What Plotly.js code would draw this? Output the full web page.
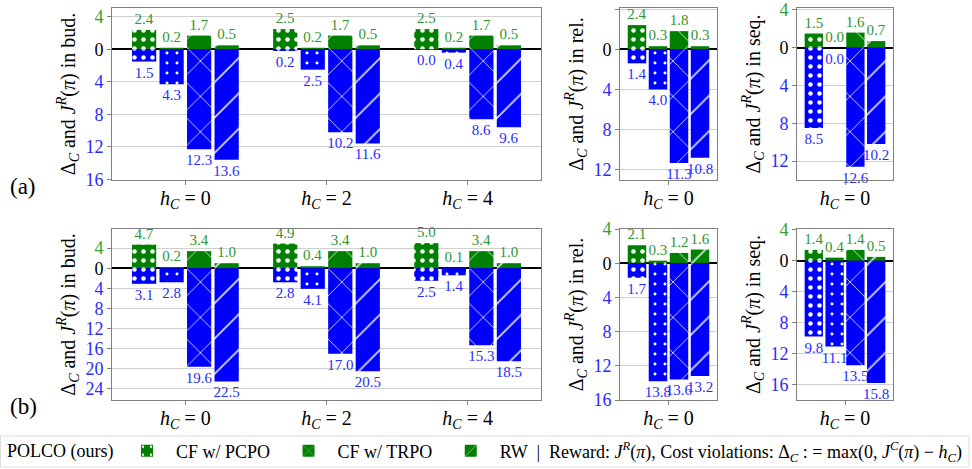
<!DOCTYPE html>
<html><head><meta charset="utf-8">
<script src="https://cdn.plot.ly/plotly-3.0.1.min.js"></script>
<style>body{margin:0;background:#fff}#chart{width:972px;height:469px}</style>
</head><body><div id="chart"></div>
<script>
// ---------- data ----------
const methods = ['POLCO (ours)', 'CF w/ PCPO', 'CF w/ TRPO', 'RW'];
const budCats = ['<i>h</i><sub><i>C</i></sub> = 0', '<i>h</i><sub><i>C</i></sub> = 2', '<i>h</i><sub><i>C</i></sub> = 4'];
const singleCat = ['<i>h</i><sub><i>C</i></sub> = 0'];

// rows: methods (POLCO, PCPO, TRPO, RW); columns: categories
// (a) budget: reward J^R (up, green) and cost violation Δ_C (down, blue)
const aBudReward = [[2.4, 2.5, 2.5], [0.2, 0.2, 0.2], [1.7, 1.7, 1.7], [0.5, 0.5, 0.5]];
const aBudCost   = [[1.5, 0.2, 0.0], [4.3, 2.5, 0.4], [12.3, 10.2, 8.6], [13.6, 11.6, 9.6]];
const aRelReward = [[2.4], [0.3], [1.8], [0.3]];
const aRelCost   = [[1.4], [4.0], [11.3], [10.8]];
const aSeqReward = [[1.5], [0.0], [1.6], [0.7]];
const aSeqCost   = [[8.5], [0.0], [12.6], [10.2]];
// (b)
const bBudReward = [[4.7, 4.9, 5.0], [0.2, 0.4, 0.1], [3.4, 3.4, 3.4], [1.0, 1.0, 1.0]];
const bBudCost   = [[3.1, 2.8, 2.5], [2.8, 4.1, 1.4], [19.6, 17.0, 15.3], [22.5, 20.5, 18.5]];
const bRelReward = [[2.1], [0.3], [1.2], [1.6]];
const bRelCost   = [[1.7], [13.8], [13.6], [13.2]];
const bSeqReward = [[1.4], [0.4], [1.4], [0.5]];
const bSeqCost   = [[9.8], [11.1], [13.5], [15.8]];

// tick values per panel
const aBudTicks = [4, 0, -4, -8, -12, -16];
const aRelTicks = [4, 0, -4, -8, -12];
const aSeqTicks = [4, 0, -4, -8, -12];
const bBudTicks = [8, 4, 0, -4, -8, -12, -16, -20, -24];
const bRelTicks = [4, 0, -4, -8, -12, -16];
const bSeqTicks = [4, 0, -4, -8, -12, -16];

const legendTail = 'RW &nbsp;|&nbsp; Reward: <i>J</i><sup><i>R</i></sup>(<i>π</i>), Cost violations: Δ<sub><i>C</i></sub> : = max(0, <i>J</i><sup><i>C</i></sup>(<i>π</i>) − <i>h</i><sub><i>C</i></sub>)';
const PAD = '&nbsp;';
const legendNames = [methods[0], methods[1] + PAD, methods[2] + PAD, legendTail];

// ---------- styles ----------
const GREEN = '#008000', BLUE = '#0000ff';
const GTXT = '#2f962f', BTXT = '#2b2bff';
const patternStyles = [
  {shape: '.', size: 9, solidity: 0.2, fgopacity: 1},
  {shape: '.', size: 10, solidity: 0.07, fgopacity: 1},
  {shape: 'x', size: 25, solidity: 0.07, fgopacity: 0.85},
  {shape: '/', size: 25, solidity: 0.07, fgopacity: 0.85}
];
function pat(m, bg) {
  return Object.assign({fgcolor: 'white', bgcolor: bg, fillmode: 'replace'}, patternStyles[m]);
}
const FONT = '"Liberation Serif", "DejaVu Serif", serif';

function panel(reward, cost, cats, xa, ya, withLegend) {
  const out = [];
  for (let m = 0; m < 4; m++) {
    out.push({
      type: 'bar', x: cats, y: reward[m], xaxis: xa, yaxis: ya,
      offsetgroup: String(m), name: legendNames[m],
      showlegend: withLegend && m > 0,
      marker: {color: GREEN, line: {width: 0}, pattern: pat(m, GREEN)},
      text: reward[m].map(v => v.toFixed(1)), textposition: 'outside',
      textfont: {color: GTXT, size: 15, family: FONT},
      cliponaxis: false, constraintext: 'none', hoverinfo: 'skip'
    });
    out.push({
      type: 'bar', x: cats,
      // downward bars; a tiny floor keeps a 0.0 label below the zero line
      y: cost[m].map(v => -Math.max(v, 0.001)), xaxis: xa, yaxis: ya,
      offsetgroup: String(m), name: methods[m], showlegend: false,
      marker: {color: BLUE, line: {width: 0}, pattern: pat(m, BLUE)},
      text: cost[m].map(v => v.toFixed(1)), textposition: 'outside',
      textfont: {color: BTXT, size: 15, family: FONT},
      cliponaxis: false, constraintext: 'none', hoverinfo: 'skip'
    });
  }
  return out;
}

const data = [].concat(
  panel(aBudReward, aBudCost, budCats, 'x', 'y', true),
  panel(aRelReward, aRelCost, singleCat, 'x2', 'y2', false),
  panel(aSeqReward, aSeqCost, singleCat, 'x3', 'y3', false),
  panel(bBudReward, bBudCost, budCats, 'x4', 'y4', false),
  panel(bRelReward, bRelCost, singleCat, 'x5', 'y5', false),
  panel(bSeqReward, bSeqCost, singleCat, 'x6', 'y6', false)
);

function tickText(vals) {
  return vals.map(v => v > 0 ? '<span style="color:#33a03a">' + v + '</span>'
    : v < 0 ? '<span style="color:#2a2aff">' + (-v) + '</span>' : '0');
}
const px = (a, b) => [a / 972, b / 972];
const py = (top, bot) => [1 - bot / 469, 1 - top / 469];

function xax(domain, anchor, range) {
  return {domain: domain, anchor: anchor, range: range, type: 'category',
    showline: true, mirror: true, linecolor: '#808080', linewidth: 1,
    ticks: 'outside', ticklen: 4, tickcolor: '#808080', showgrid: false,
    ticklabelstandoff: -4,
    tickfont: {size: 20, family: FONT, color: 'black'}, fixedrange: true};
}
function yax(domain, anchor, range, ticks, name) {
  return {domain: domain, anchor: anchor, range: range,
    tickvals: ticks, ticktext: tickText(ticks),
    showline: true, mirror: true, linecolor: '#808080', linewidth: 1,
    ticks: 'outside', ticklen: 4, tickcolor: '#808080',
    showgrid: true, gridcolor: '#d0d0d0', gridwidth: 1,
    zeroline: true, zerolinecolor: 'black', zerolinewidth: 2,
    tickfont: {size: 18, family: FONT},
    title: {text: 'Δ<sub><i>C</i></sub> and <i>J</i><sup><i>R</i></sup>(<i>π</i>) in ' + name,
      font: {size: 20, family: FONT, color: 'black'}, standoff: 4},
    fixedrange: true};
}

const X1 = px(112, 541), X2 = px(620, 717), X3 = px(797, 893);
const RA = py(8, 180), RB = py(229, 400);

const layout = {
  width: 972, height: 469, margin: {l: 0, r: 0, t: 0, b: 0, autoexpand: false},
  paper_bgcolor: 'white', plot_bgcolor: 'white',
  barmode: 'group', bargap: 0.22, bargroupgap: 0.12,
  font: {family: FONT, size: 18, color: 'black'},
  showlegend: true,
  legend: {orientation: 'h', xref: 'paper', yref: 'paper',
    x: 118 / 972, y: 1 - 451 / 469, xanchor: 'left', yanchor: 'middle',
    itemwidth: 48, traceorder: 'normal',
    font: {size: 18, family: FONT, color: 'black'},
    bgcolor: 'rgba(0,0,0,0)', borderwidth: 0},
  xaxis: xax(X1, 'y', [-0.52, 2.52]),
  yaxis: yax(RA, 'x', [-16.1, 5.1], aBudTicks, 'bud.'),
  xaxis2: xax(X2, 'y2', [-0.45, 0.45]),
  yaxis2: yax(RA, 'x2', [-13, 4.1], aRelTicks, 'rel.'),
  xaxis3: xax(X3, 'y3', [-0.45, 0.45]),
  yaxis3: yax(RA, 'x3', [-14, 4.2], aSeqTicks, 'seq.'),
  xaxis4: xax(X1, 'y4', [-0.52, 2.52]),
  yaxis4: yax(RB, 'x4', [-26.2, 7.8], bBudTicks, 'bud.'),
  xaxis5: xax(X2, 'y5', [-0.45, 0.45]),
  yaxis5: yax(RB, 'x5', [-16, 4], bRelTicks, 'rel.'),
  xaxis6: xax(X3, 'y6', [-0.45, 0.45]),
  yaxis6: yax(RB, 'x6', [-18, 4.1], bSeqTicks, 'seq.'),
  annotations: [
    {text: '(a)', xref: 'paper', yref: 'paper', x: 8 / 972, y: 1 - 186 / 469,
      xanchor: 'left', yanchor: 'middle', showarrow: false, font: {size: 23, family: FONT}},
    {text: '(b)', xref: 'paper', yref: 'paper', x: 8 / 972, y: 1 - 406 / 469,
      xanchor: 'left', yanchor: 'middle', showarrow: false, font: {size: 23, family: FONT}},
    {text: methods[0], xref: 'paper', yref: 'paper', x: 5 / 972, y: 1 - 451 / 469,
      xanchor: 'left', yanchor: 'middle', showarrow: false, font: {size: 18, family: FONT}}
  ],
  shapes: [
    {type: 'rect', xref: 'paper', yref: 'paper', x0: 0.5 / 972, x1: 969 / 972,
      y0: 1 - 467 / 469, y1: 1 - 436 / 469, line: {color: '#dcdcdc', width: 1}}
  ]
};

Plotly.newPlot('chart', data, layout, {staticPlot: true, displayModeBar: false});
</script>
</body></html>
